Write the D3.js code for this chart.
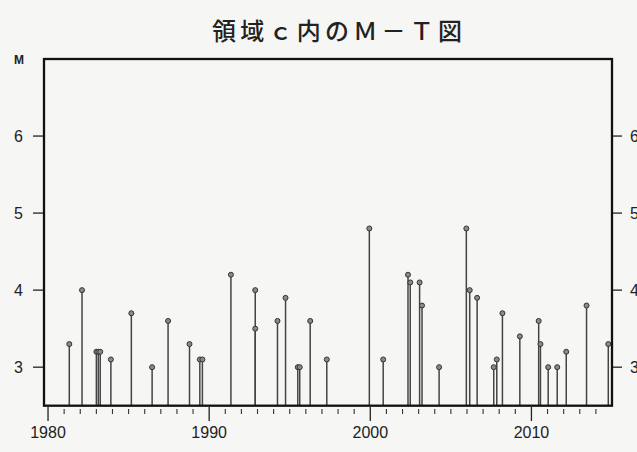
<!DOCTYPE html>
<html><head><meta charset="utf-8">
<script src="https://cdn.jsdelivr.net/npm/d3@7"></script>
<style>body{margin:0;background:#f6f6f5;}svg{display:block;}</style>
</head><body>
<script>
const title = "領域ｃ内のＭ－Ｔ図";
const years = [1981.32, 1982.11, 1983.0, 1983.12, 1983.24, 1983.9, 1985.17, 1986.46, 1987.45, 1988.78,
  1989.42, 1989.58, 1991.35, 1992.86, 1992.86, 1994.24, 1994.74, 1995.5, 1995.62, 1996.27,
  1997.3, 1999.94, 2000.8, 2002.34, 2002.48, 2003.06, 2003.21, 2004.27, 2005.96, 2006.17,
  2006.63, 2007.66, 2007.85, 2008.2, 2009.28, 2010.45, 2010.56, 2011.04, 2011.6, 2012.16,
  2013.42, 2014.77];
const mags = [3.3, 4.0, 3.2, 3.2, 3.2, 3.1, 3.7, 3.0, 3.6, 3.3,
  3.1, 3.1, 4.2, 4.0, 3.5, 3.6, 3.9, 3.0, 3.0, 3.6,
  3.1, 4.8, 3.1, 4.2, 4.1, 4.1, 3.8, 3.0, 4.8, 4.0,
  3.9, 3.0, 3.1, 3.7, 3.4, 3.6, 3.3, 3.0, 3.0, 3.2,
  3.8, 3.3];
const yTicks = [3, 4, 5, 6];
const xMajor = [1980, 1990, 2000, 2010];
const xMinor = d3.range(1980, 2015);
const yLabel = "M";

const W = 637, H = 452;
const svg = d3.select("body").append("svg").attr("width", W).attr("height", H);
svg.append("rect").attr("width", W).attr("height", H).attr("fill", "#f6f6f5");

const x = d3.scaleLinear().domain([1979.75, 2015]).range([44, 612]);
const y = d3.scaleLinear().domain([2.5, 7]).range([405.7, 59]);

// title
svg.append("text").attr("x", 337).attr("y", 40).attr("text-anchor", "middle")
  .attr("font-family", "'Noto Sans CJK JP', sans-serif").attr("font-size", 24)
  .attr("font-weight", 500)
  .attr("textLength", 250).attr("fill", "#222").text(title);

// stems
const data = years.map((d, i) => ({t: d, m: mags[i]}));
svg.append("g").selectAll("line").data(data).join("line")
  .attr("x1", d => x(d.t)).attr("x2", d => x(d.t))
  .attr("y1", y(2.5)).attr("y2", d => y(d.m))
  .attr("stroke", "#444").attr("stroke-width", 1.5);
svg.append("g").selectAll("circle").data(data).join("circle")
  .attr("cx", d => x(d.t)).attr("cy", d => y(d.m)).attr("r", 2.5)
  .attr("fill", "#8a8a8a").attr("stroke", "#333").attr("stroke-width", 1);

// frame
svg.append("rect").attr("x", 44).attr("y", 59).attr("width", 568).attr("height", 346.7)
  .attr("fill", "none").attr("stroke", "#111").attr("stroke-width", 2.3);

const font = "'Liberation Sans', Arial, sans-serif";
// left y axis ticks
const gl = svg.append("g");
gl.selectAll("line").data(yTicks).join("line")
  .attr("x1", 33).attr("x2", 43).attr("y1", d => y(d)).attr("y2", d => y(d))
  .attr("stroke", "#222").attr("stroke-width", 1.3);
gl.selectAll("text").data(yTicks).join("text")
  .attr("x", 23).attr("y", d => y(d) + 6).attr("text-anchor", "end")
  .attr("font-family", font).attr("font-size", 16).attr("fill", "#222").text(d => d);
svg.append("text").attr("x", 19).attr("y", 64).attr("text-anchor", "middle")
  .attr("font-family", font).attr("font-size", 12).attr("font-weight", "bold")
  .attr("fill", "#222").text(yLabel);
// right y axis ticks
const gr = svg.append("g");
gr.selectAll("line").data(yTicks).join("line")
  .attr("x1", 613).attr("x2", 622).attr("y1", d => y(d)).attr("y2", d => y(d))
  .attr("stroke", "#222").attr("stroke-width", 1.3);
gr.selectAll("text").data(yTicks).join("text")
  .attr("x", 630).attr("y", d => y(d) + 6).attr("text-anchor", "start")
  .attr("font-family", font).attr("font-size", 16).attr("fill", "#222").text(d => d);

// x ticks
const gx = svg.append("g");
gx.selectAll("line.minor").data(xMinor.filter(d => !xMajor.includes(d))).join("line")
  .attr("class", "minor")
  .attr("x1", d => x(d)).attr("x2", d => x(d)).attr("y1", 409).attr("y2", 414)
  .attr("stroke", "#333").attr("stroke-width", 1.1);
gx.selectAll("line.major").data(xMajor).join("line")
  .attr("class", "major")
  .attr("x1", d => x(d)).attr("x2", d => x(d)).attr("y1", 407).attr("y2", 421)
  .attr("stroke", "#222").attr("stroke-width", 1.3);
gx.selectAll("text").data(xMajor).join("text")
  .attr("x", d => x(d)).attr("y", 438).attr("text-anchor", "middle")
  .attr("font-family", font).attr("font-size", 16).attr("fill", "#222").text(d => d);
</script>
</body></html>
